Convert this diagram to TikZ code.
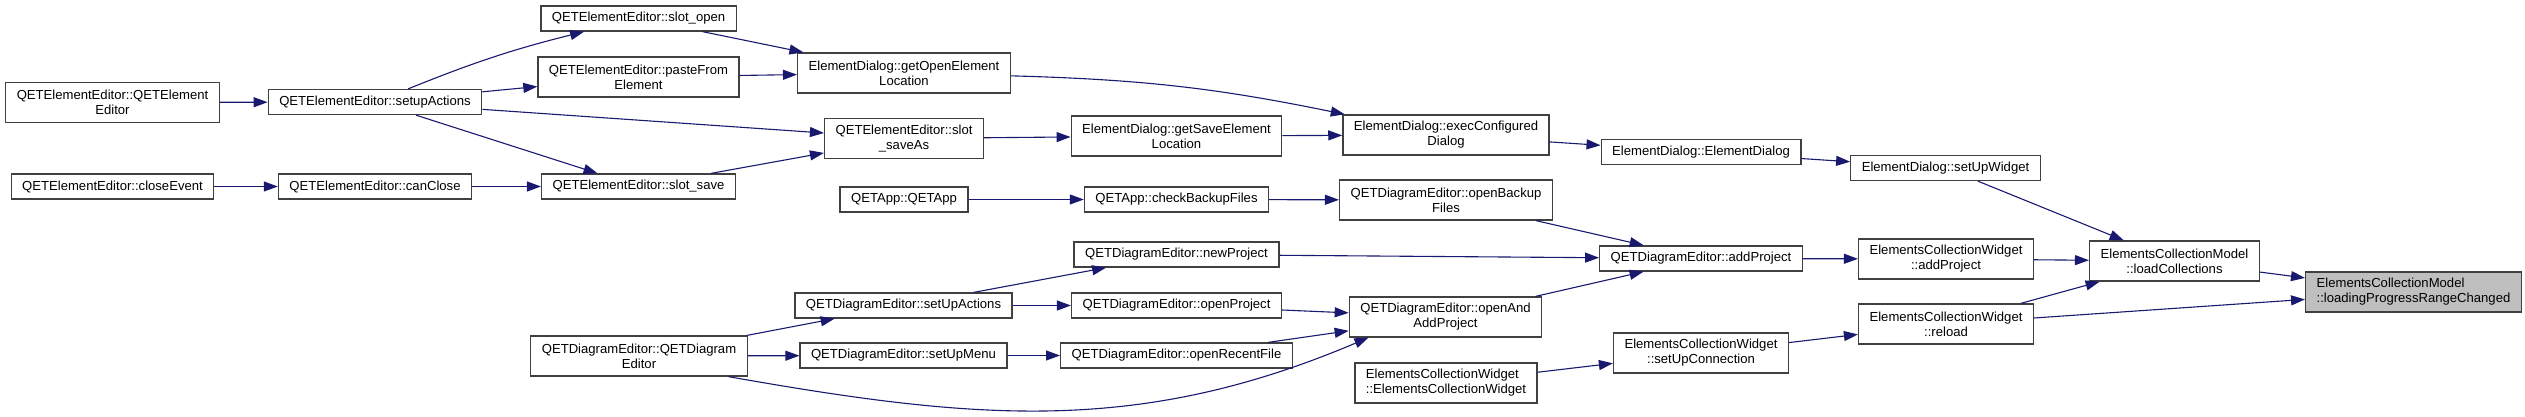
\documentclass[tikz,border=0pt]{standalone}
\usepackage{fontspec}
\setmainfont{Liberation Sans}
\usepackage{xcolor}
\usepackage{tikz}
\usetikzlibrary{arrows.meta, positioning}

\definecolor{midnightblue}{RGB}{25,25,112}

\begin{document}
\begin{tikzpicture}[
    x=1pt, y=1pt,
    fn/.style={draw=black!75, line width=1.3pt, fill=white, align=center, inner xsep=11pt, inner ysep=2pt, minimum height=25pt, font=\fontsize{13.1}{15}\selectfont},
    fntwo/.style={fn, minimum height=40pt},
    fncur/.style={fntwo, fill=black!25, align=left},
    arr/.style={-{Triangle[length=14pt, width=10pt]}, draw=midnightblue, line width=1.1pt},
]
\useasboundingbox (0,0) rectangle (2525,417);

\node[fntwo] (eeCtor) at (112.5,314.5) {QETElementEditor::QETElement\\Editor};
\node[fn] (eeClose) at (112.5,230.5) {QETElementEditor::closeEvent};
\node[fn] (eeSetup) at (375,315) {QETElementEditor::setupActions};
\node[fn] (eeCanClose) at (375,230.5) {QETElementEditor::canClose};
\node[fn] (eeOpen) at (638.5,398.5) {QETElementEditor::slot\_open};
\node[fntwo] (eePaste) at (638.5,340) {QETElementEditor::pasteFrom\\Element};
\node[fn] (eeSave) at (638.5,230.5) {QETElementEditor::slot\_save};
\node[fntwo] (deCtor) at (639,61) {QETDiagramEditor::QETDiagram\\Editor};

\node[fntwo] (dlgOpenLoc) at (904,344) {ElementDialog::getOpenElement\\Location};
\node[fntwo] (eeSaveAs) at (904,278.5) {QETElementEditor::slot\\\_saveAs};
\node[fn] (appCtor) at (904,217.5) {QETApp::QETApp};
\node[fn] (deSetUpActions) at (903.5,111.5) {QETDiagramEditor::setUpActions};
\node[fn] (deSetUpMenu) at (903.5,61.5) {QETDiagramEditor::setUpMenu};

\node[fntwo] (dlgSaveLoc) at (1176.5,281) {ElementDialog::getSaveElement\\Location};
\node[fn] (appBackup) at (1176.5,217.5) {QETApp::checkBackupFiles};
\node[fn] (deNew) at (1176.5,162.5) {QETDiagramEditor::newProject};
\node[fn] (deOpenProj) at (1176.5,111.5) {QETDiagramEditor::openProject};
\node[fn] (deRecent) at (1176.5,61.5) {QETDiagramEditor::openRecentFile};

\node[fntwo] (dlgExec) at (1446,282) {ElementDialog::execConfigured\\Dialog};
\node[fntwo] (deBackup) at (1446,217) {QETDiagramEditor::openBackup\\Files};
\node[fntwo] (deOpenAdd) at (1445.5,100) {QETDiagramEditor::openAnd\\AddProject};
\node[fntwo, align=left] (ecwCtor) at (1446,34) {ElementsCollectionWidget\\::ElementsCollectionWidget};

\node[fn] (dlgCtor) at (1701,265) {ElementDialog::ElementDialog};
\node[fn] (deAdd) at (1701,158.5) {QETDiagramEditor::addProject};
\node[fntwo] (ecwConn) at (1701,64) {ElementsCollectionWidget\\::setUpConnection};

\node[fn] (dlgWidget) at (1945.5,249) {ElementDialog::setUpWidget};
\node[fntwo] (ecwAdd) at (1946,158) {ElementsCollectionWidget\\::addProject};
\node[fntwo] (ecwReload) at (1946,93) {ElementsCollectionWidget\\::reload};

\node[fntwo] (ecmLoad) at (2174.5,156) {ElementsCollectionModel\\::loadCollections};
\node[fncur] (ecmRange) at (2413.5,125) {ElementsCollectionModel\\::loadingProgressRangeChanged};

\draw[arr] (eeCtor) -- (eeSetup);
\draw[arr] (eeClose) -- (eeCanClose);
\draw[arr] (eeSetup) to[bend left=4] (eeOpen);
\draw[arr] (eeSetup) -- (eePaste);
\draw[arr] (eeSetup) -- (eeSaveAs);
\draw[arr] (eeSetup) -- (eeSave);
\draw[arr] (eeCanClose) -- (eeSave);
\draw[arr] (eeOpen) -- (dlgOpenLoc);
\draw[arr] (eePaste) -- (dlgOpenLoc);
\draw[arr] (eeSave) -- (eeSaveAs);
\draw[arr] (eeSaveAs) -- (dlgSaveLoc);
\draw[arr] (dlgOpenLoc) to[bend left=5] (dlgExec);
\draw[arr] (dlgSaveLoc) -- (dlgExec);
\draw[arr] (dlgExec) -- (dlgCtor);
\draw[arr] (dlgCtor) -- (dlgWidget);
\draw[arr] (dlgWidget) -- (ecmLoad);
\draw[arr] (appCtor) -- (appBackup);
\draw[arr] (appBackup) -- (deBackup);
\draw[arr] (deBackup) -- (deAdd);
\draw[arr] (deNew) -- (deAdd);
\draw[arr] (deOpenAdd) -- (deAdd);
\draw[arr] (deCtor) -- (deSetUpActions);
\draw[arr] (deCtor) -- (deSetUpMenu);
\draw[arr] (deCtor.-13) to[out=-10, in=203] (deOpenAdd.195);
\draw[arr] (deSetUpActions) -- (deNew);
\draw[arr] (deSetUpActions) -- (deOpenProj);
\draw[arr] (deSetUpMenu) -- (deRecent);
\draw[arr] (deOpenProj) -- (deOpenAdd);
\draw[arr] (deRecent) -- (deOpenAdd);
\draw[arr] (deAdd) -- (ecwAdd);
\draw[arr] (ecwAdd) -- (ecmLoad);
\draw[arr] (ecwReload) -- (ecmLoad);
\draw[arr] (ecwReload) -- (ecmRange);
\draw[arr] (ecwCtor) -- (ecwConn);
\draw[arr] (ecwConn) -- (ecwReload);
\draw[arr] (ecmLoad) -- (ecmRange);

\end{tikzpicture}
\end{document}
